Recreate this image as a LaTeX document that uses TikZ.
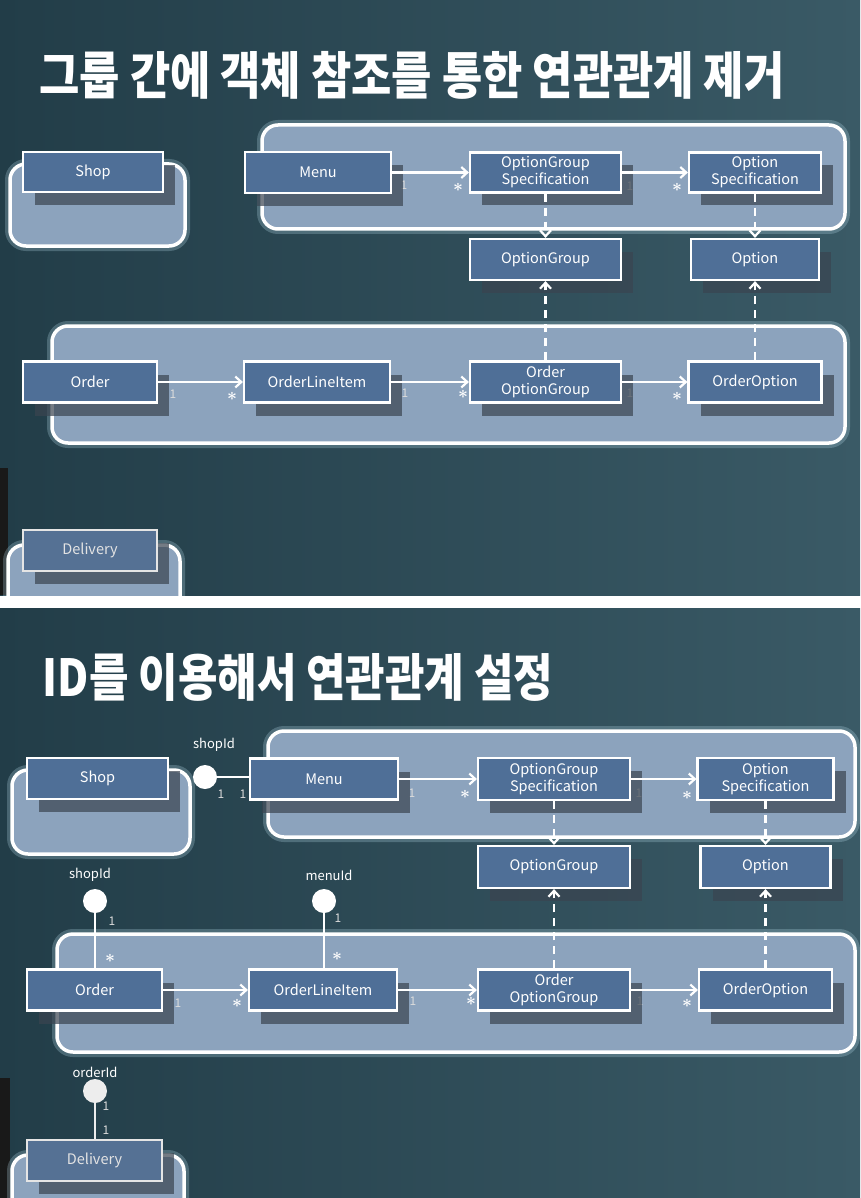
\documentclass[tikz,border=0pt]{standalone}
\usepackage{fontspec}
\usepackage{graphicx}
\usepackage{bm}
\setmainfont{Noto Sans CJK KR}
\usetikzlibrary{arrows.meta,positioning,calc,shadows}
\definecolor{slatedark}{HTML}{223D48}
\definecolor{slatelight}{HTML}{3A5A66}
\definecolor{classblue}{HTML}{4F6F97}
\definecolor{groupblue}{HTML}{8CA3BD}
\definecolor{shadowgrey}{HTML}{3A4450}
\definecolor{glowblue}{HTML}{BFE4F2}
\pgfdeclarelayer{back}
\pgfdeclarelayer{links}
\pgfsetlayers{back,links,main}
\tikzset{cls/.style={draw=white,line width=2.2pt,fill=classblue,text=white,
  font=\fontsize{14.5}{17}\selectfont,align=center,inner sep=0pt,minimum height=41pt,
  drop shadow={shadow xshift=12pt,shadow yshift=-13pt,fill=shadowgrey,opacity=.7}},
  faded/.style={text=white!78!gray,draw=white!80!gray,fill=classblue!88!gray},
  grp/.style={draw=white,line width=3.5pt,fill=groupblue,rounded corners=16pt,
  preaction={draw=glowblue,opacity=.25,line width=10pt}},
  assoc/.style={-{Straight Barb[length=6pt,width=11pt,line width=2.2pt]},line width=2.5pt,draw=white},
  dep/.style={assoc,dash pattern=on 8pt off 6pt},
  idball/.style={circle,fill=white,minimum size=24pt,inner sep=0pt},
  idtag/.style={text=white,font=\fontsize{13}{14}\selectfont,inner sep=0pt},
  idlink/.style={line width=2pt,draw=white},
  one/.style={text=white!72!gray,font=\fontsize{12}{13}\selectfont,inner sep=0pt},
  many/.style={text=white,font=\fontsize{16}{17}\selectfont,inner sep=0pt},
  heading/.style={text=white,font=\bfseries,inner sep=0pt}}

\begin{document}
\begin{tikzpicture}[x=1pt,y=-1pt]
\begin{pgfonlayer}{back}
\useasboundingbox (0,0) rectangle (860,1198);
\fill[white] (0,0) rectangle (860,1198);
\shade[left color=slatedark,right color=slatelight] (0,0) rectangle (860,595);
\shade[left color=slatedark,right color=slatelight] (0,608) rectangle (860,1198);
\fill[black!90] (0,468) rectangle (8,595);
\fill[black!90] (0,1078) rectangle (10,1198);
% frames, upper slide
\node[grp,minimum width=175pt,minimum height=82pt] (shopgrp) at (97.5,205) {};
\node[grp,minimum width=583pt,minimum height=104pt] (menugrp) at (553.5,177) {};
\node[grp,minimum width=793pt,minimum height=117pt] (ordergrp) at (448.5,384.5) {};
\begin{scope}
\clip (0,0) rectangle (860,595);
\node[grp,minimum width=172pt,minimum height=100pt] (delivgrp) at (94,595) {};
\end{scope}
% frames, lower slide
\node[grp,minimum width=178pt,minimum height=84pt] (shopgrp2) at (101,812) {};
\node[grp,minimum width=587pt,minimum height=106pt] (menugrp2) at (561.5,784) {};
\node[grp,minimum width=798pt,minimum height=118pt] (ordergrp2) at (456,993) {};
\begin{scope}
\clip (0,608) rectangle (860,1198);
\node[grp,minimum width=172pt,minimum height=100pt] (delivgrp2) at (98,1205) {};
\end{scope}
\end{pgfonlayer}

\node[heading] (title) at (412,75) {\resizebox*{745pt}{48pt}{그룹 간에 객체 참조를 통한 연관관계 제거}};
\node[heading] (title2) at (298,677) {\resizebox*{510pt}{48pt}{ID를 이용해서 연관관계 설정}};

% upper slide
\node[cls,minimum width=140pt,minimum height=40pt] (shop) at (93,172) {Shop};
\node[cls,minimum width=146pt] (menu) at (318,172.5) {Menu};
\node[cls,minimum width=151pt,minimum height=40pt] (ogspec) at (545.5,172.5) {OptionGroup\\Specification};
\node[cls,minimum width=132pt,minimum height=40pt] (ospec) at (755,172.5) {Option\\Specification};
\node[cls,minimum width=151pt] (og) at (545.5,259.5) {OptionGroup};
\node[cls,minimum width=128pt] (opt) at (755,259.5) {Option};
\node[cls,minimum width=134pt] (order) at (90,382) {Order};
\node[cls,minimum width=146pt] (oli) at (317,382) {OrderLineItem};
\node[cls,minimum width=151pt] (oog) at (545.5,382) {Order\\OptionGroup};
\node[cls,minimum width=133pt] (oopt) at (755,382) {OrderOption};
\node[cls,faded,minimum width=134pt] (deliv) at (90,550.5) {Delivery};

% lower slide
\node[cls,minimum width=141pt] (shop2) at (97.5,778.5) {Shop};
\node[cls,minimum width=148pt] (menu2) at (324,779) {Menu};
\node[cls,minimum width=152pt,minimum height=42pt] (ogspec2) at (554,779) {OptionGroup\\Specification};
\node[cls,minimum width=136pt,minimum height=42pt] (ospec2) at (765.5,779) {Option\\Specification};
\node[cls,minimum width=152pt,minimum height=42pt] (og2) at (554,867) {OptionGroup};
\node[cls,minimum width=130pt,minimum height=42pt] (opt2) at (765.5,867) {Option};
\node[cls,minimum width=135pt] (order2) at (94.5,990) {Order};
\node[cls,minimum width=148pt] (oli2) at (323,990) {OrderLineItem};
\node[cls,minimum width=152pt] (oog2) at (554,990) {Order\\OptionGroup};
\node[cls,minimum width=133pt] (oopt2) at (765.5,990) {OrderOption};
\node[cls,faded,minimum width=135pt] (deliv2) at (94.5,1160.5) {Delivery};

\node[idball] (shopid) at (205,777) {};
\node[idtag] (shopidtag) at (214,745) {shopId};
\node[idball] (shopid2) at (95,901) {};
\node[idtag] (shopidtag2) at (90,875) {shopId};
\node[idball] (menuid) at (324,901) {};
\node[idtag] (menuidtag) at (329,875) {menuId};
\node[idball,fill=white!86!gray] (orderid) at (95,1091) {};
\node[idtag] (orderidtag) at (95,1072) {orderId};

\draw[assoc] (menu) -- (ogspec);
\draw[assoc] (ogspec) -- (ospec);
\draw[dep] (ogspec) -- (og);
\draw[dep] (ospec) -- (opt);
\draw[assoc] (order) -- (oli);
\draw[assoc] (oli) -- (oog);
\draw[assoc] (oog) -- (oopt);
\draw[dep] (oog) -- (og);
\draw[dep] (oopt) -- (opt);

\draw[assoc] (menu2) -- (ogspec2);
\draw[assoc] (ogspec2) -- (ospec2);
\draw[dep] (ogspec2) -- (og2);
\draw[dep] (ospec2) -- (opt2);
\draw[assoc] (order2) -- (oli2);
\draw[assoc] (oli2) -- (oog2);
\draw[assoc] (oog2) -- (oopt2);
\draw[dep] (oog2) -- (og2);
\draw[dep] (oopt2) -- (opt2);
\draw[idlink] (shopid) -- (shopid -| menu2.west);
\draw[idlink] (shopid2) -- (shopid2 |- order2.north);
\draw[idlink] (menuid) -- (menuid |- oli2.north);
\draw[idlink,draw=white!86!gray] (orderid) -- (orderid |- deliv2.north);

% multiplicities
\begin{pgfonlayer}{links}
\foreach \x/\y [count=\i] in {404/185,630/186,173/394,405/393,630/393,
  221/794,243/794,412/793,639/793,112/921,338/918,178/1003,413/1001,640/1001,106/1106,106/1130}
  \node[one] (one\i) at (\x,\y) {1};
\end{pgfonlayer}
\foreach \x/\y [count=\i] in {458/187,677/187,232/396,463/394,677/396,
  465/794,687/795,110/958,337/956,237/1003,471/1001,687/1003}
  \node[many] (many\i) at (\x,\y) {$\bm{\ast}$};
\end{tikzpicture}
\end{document}
